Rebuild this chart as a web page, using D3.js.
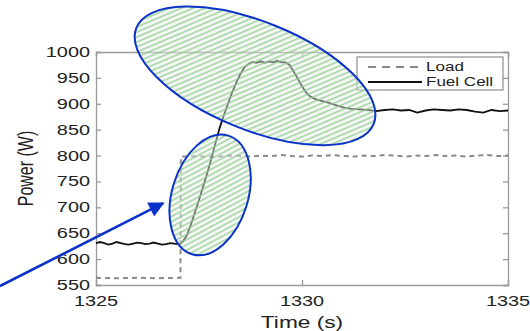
<!DOCTYPE html>
<html>
<head>
<meta charset="utf-8">
<script src="https://cdn.jsdelivr.net/npm/d3@7"></script>
<style>
  html, body { margin: 0; padding: 0; background: #fff; }
  svg { display: block; font-family: "Liberation Sans", Arial, sans-serif; }
</style>
</head>
<body>
<div id="chart"></div>
<script>
// Fuel cell power (W) vs time (s)
const fcTime = [
  1325.0, 1325.1, 1325.2, 1325.3, 1325.4, 1325.5, 1325.6, 1325.7, 1325.8, 1325.9,
  1326.0, 1326.1, 1326.2, 1326.3, 1326.4, 1326.5, 1326.6, 1326.7, 1326.8, 1326.9,
  1327.0, 1327.1, 1327.2, 1327.3, 1327.4, 1327.5, 1327.6, 1327.7, 1327.8, 1327.9,
  1328.0, 1328.1, 1328.2, 1328.3, 1328.4, 1328.5, 1328.6, 1328.7, 1328.8, 1328.9,
  1329.0, 1329.1, 1329.2, 1329.3, 1329.4, 1329.5, 1329.6, 1329.7, 1329.8, 1329.9,
  1330.0, 1330.1, 1330.2, 1330.3, 1330.4, 1330.6, 1330.8, 1331.0, 1331.2, 1331.4,
  1331.6, 1331.8, 1332.0, 1332.2, 1332.4, 1332.6, 1332.8, 1333.0, 1333.2, 1333.4,
  1333.6, 1333.8, 1334.0, 1334.2, 1334.4, 1334.6, 1334.8, 1335.0
];
const fcPower = [
  631, 633, 631, 628, 630, 633, 631, 629, 628, 630,
  632, 631, 629, 630, 632, 630, 628, 629, 631, 630,
  629, 633, 645, 666, 690, 714, 740, 766, 794, 824,
  853, 877, 899, 921, 940, 957, 970, 977, 981, 979,
  982, 979, 982, 980, 983, 980, 980, 975, 962, 948,
  934, 922, 914, 910, 907, 903, 898, 893, 890, 889,
  888, 886, 888, 889, 887, 888, 883, 887, 889, 888,
  887, 889, 888, 885, 883, 888, 886, 887
];

// Load power (W) vs time (s)
const loadTime = [
  1325.0, 1325.5, 1326.0, 1326.5, 1327.0, 1327.05, 1327.06, 1327.25, 1327.5, 1327.75,
  1328.0, 1328.25, 1328.5, 1328.75, 1329.0, 1329.25, 1329.5, 1329.75, 1330.0, 1330.25,
  1330.5, 1330.75, 1331.0, 1331.25, 1331.5, 1331.75, 1332.0, 1332.25, 1332.5, 1332.75,
  1333.0, 1333.25, 1333.5, 1333.75, 1334.0, 1334.25, 1334.5, 1334.75, 1335.0
];
const loadPower = [
  564, 563, 564, 563, 564, 564, 798, 798, 799, 797,
  798, 800, 799, 798, 800, 799, 801, 799, 798, 800,
  799, 801, 799, 798, 800, 799, 801, 800, 798, 800,
  799, 801, 799, 800, 798, 800, 801, 799, 800
];

const xTicks = [1325, 1330, 1335];
const yTicks = [550, 600, 650, 700, 750, 800, 850, 900, 950, 1000];
const seriesNames = ["Load", "Fuel Cell"];

// annotation ellipses: centre in data units
const ellipseT = [1328.86, 1327.77];
const ellipseP = [954, 724];

const width = 530, height = 331;
const margin = { top: 52, right: 22, bottom: 46, left: 96 };
const stretch = 1.42; // text in the picture is stretched sideways

const svg = d3.select("#chart").append("svg")
  .attr("width", width).attr("height", height);

const x = d3.scaleLinear().domain([1325, 1335]).range([margin.left, width - margin.right]);
const y = d3.scaleLinear().domain([550, 1000]).range([height - margin.bottom, margin.top]);

const defs = svg.append("defs");
const pat = defs.append("pattern")
  .attr("id", "hatch")
  .attr("patternUnits", "userSpaceOnUse")
  .attr("width", 4.6).attr("height", 4.6)
  .attr("patternTransform", "rotate(45)");
pat.append("rect").attr("width", 4.6).attr("height", 4.6).attr("fill", "#ececec").attr("opacity", 0.45);
pat.append("rect").attr("width", 1.7).attr("height", 4.6).attr("fill", "#86cc86").attr("opacity", 0.7);

defs.append("marker")
  .attr("id", "arrowhead")
  .attr("viewBox", "0 0 10 10")
  .attr("refX", 9).attr("refY", 5)
  .attr("markerWidth", 7).attr("markerHeight", 6)
  .attr("markerUnits", "strokeWidth")
  .attr("orient", "auto")
  .append("path")
  .attr("d", "M0,0 L10,5 L0,10 Z")
  .attr("fill", "#0b33c9");

const axisColor = "#9a9a9a";
const x0 = x.range()[0], x1 = x.range()[1], y0 = y.range()[0], y1 = y.range()[1];

// axes (box style, ticks inward)
svg.append("g").attr("transform", `translate(0,${y0})`)
  .call(d3.axisBottom(x).tickValues(xTicks).tickSize(-5).tickFormat(""));
svg.append("g").attr("transform", `translate(0,${y1})`)
  .call(d3.axisTop(x).tickValues(xTicks).tickSize(-5).tickFormat(""));
svg.append("g").attr("transform", `translate(${x0},0)`)
  .call(d3.axisLeft(y).tickValues(yTicks).tickSize(-5).tickFormat(""));
svg.append("g").attr("transform", `translate(${x1},0)`)
  .call(d3.axisRight(y).tickValues(yTicks).tickSize(-5).tickFormat(""));
svg.selectAll(".domain, .tick line").attr("stroke", axisColor).attr("stroke-width", 1.3);

// tick labels
svg.append("g").selectAll("text")
  .data(yTicks).join("text")
  .attr("transform", (d) => `translate(${x0 - 6},${y(d) + 5}) scale(${stretch},1)`)
  .attr("text-anchor", "end")
  .attr("font-size", 14)
  .attr("fill", "#222")
  .text((d) => d);

svg.append("g").selectAll("text")
  .data(xTicks).join("text")
  .attr("transform", (d) => `translate(${x(d)},${y0 + 21}) scale(${stretch},1)`)
  .attr("text-anchor", "middle")
  .attr("font-size", 14)
  .attr("fill", "#222")
  .text((d) => d);

svg.append("text")
  .attr("transform", `translate(${(x0 + x1) / 2},${height - 3}) scale(${stretch},1)`)
  .attr("text-anchor", "middle")
  .attr("font-size", 16)
  .attr("fill", "#222")
  .text("Time (s)");

svg.append("text")
  .attr("transform", `translate(33,${(y0 + y1) / 2}) scale(${stretch},1) rotate(-90)`)
  .attr("text-anchor", "middle")
  .attr("font-size", 16)
  .attr("fill", "#222")
  .text("Power (W)");

// series
const line = d3.line().x((d) => x(d[0])).y((d) => y(d[1]));

svg.append("path")
  .datum(d3.zip(loadTime, loadPower))
  .attr("d", line)
  .attr("fill", "none")
  .attr("stroke", "#8a8a8a")
  .attr("stroke-width", 2)
  .attr("stroke-dasharray", "5,4");

svg.append("path")
  .datum(d3.zip(fcTime, fcPower))
  .attr("d", line)
  .attr("fill", "none")
  .attr("stroke", "#111")
  .attr("stroke-width", 1.8);

// legend
const lg = svg.append("g").attr("transform", "translate(357,57)");
lg.append("rect")
  .attr("width", 146).attr("height", 33)
  .attr("fill", "#fff").attr("stroke", "#777").attr("stroke-width", 1);
seriesNames.forEach((name, i) => {
  const ly = 10 + i * 15;
  lg.append("line")
    .attr("x1", 11).attr("x2", 65).attr("y1", ly).attr("y2", ly)
    .attr("stroke", i === 0 ? "#8a8a8a" : "#111")
    .attr("stroke-width", 2)
    .attr("stroke-dasharray", i === 0 ? "8,6" : null);
  lg.append("text")
    .attr("transform", `translate(69,${ly + 4.3}) scale(${stretch},1)`)
    .attr("font-size", 12)
    .attr("fill", "#222")
    .text(name);
});

// annotations
const ellipseRx = [128, 38];
const ellipseRy = [54, 62];
const ellipseRot = [22, 17];
svg.append("g").selectAll("ellipse")
  .data(ellipseT).join("ellipse")
  .attr("transform", (d, i) => `translate(${x(d)},${y(ellipseP[i])}) rotate(${ellipseRot[i]})`)
  .attr("rx", (d, i) => ellipseRx[i])
  .attr("ry", (d, i) => ellipseRy[i])
  .attr("fill", "url(#hatch)")
  .attr("stroke", "#0b33c9")
  .attr("stroke-width", 2);

svg.append("line")
  .attr("x1", x(1322.67)).attr("y1", y(548))
  .attr("x2", x(1326.63)).attr("y2", y(708))
  .attr("stroke", "#0b33c9")
  .attr("stroke-width", 2.6)
  .attr("marker-end", "url(#arrowhead)");
</script>
</body>
</html>
